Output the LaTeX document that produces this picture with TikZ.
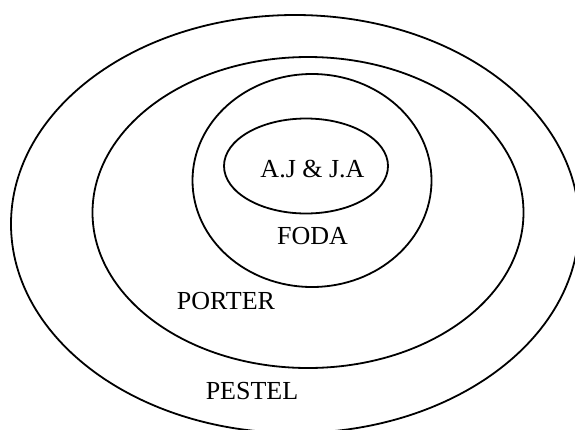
\documentclass[tikz,border=0pt]{standalone}
\usepackage{fontspec}
\setmainfont{Liberation Serif}
\usetikzlibrary{shapes.geometric}
\begin{document}
\begin{tikzpicture}[x=1pt,y=-1pt,
  ring/.style={ellipse, draw=black, line width=1.8pt, inner sep=0pt},
  lbl/.style={inner sep=0pt, font=\fontsize{26}{30}\selectfont}]
\useasboundingbox (0,0) rectangle (575,429);
\node[ring, minimum width=568pt, minimum height=418pt] (pestel) at (295,224) {};
\node[ring, minimum width=431pt, minimum height=311pt] (porter) at (308,212.5) {};
\node[ring, minimum width=239pt, minimum height=213pt] (foda) at (312,180.5) {};
\node[ring, minimum width=164pt, minimum height=95pt] (ajja) at (306,166) {};
\node[lbl] (tajja) at (312.5,169.5) {A.J \& J.A};
\node[lbl] (tfoda) at (312.5,236.5) {FODA};
\node[lbl] (tporter) at (226,301) {PORTER};
\node[lbl] (tpestel) at (252,391.5) {PESTEL};
\end{tikzpicture}
\end{document}
